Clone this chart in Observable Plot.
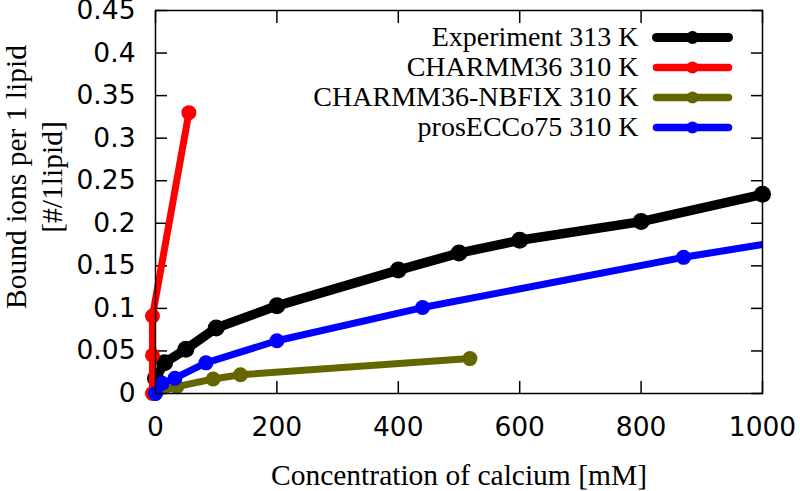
<!DOCTYPE html>
<html>
<head>
<meta charset="utf-8">
<script src="https://cdn.jsdelivr.net/npm/d3@7"></script>
<script src="https://cdn.jsdelivr.net/npm/@observablehq/plot@0.6"></script>
<style>
  html, body { margin: 0; padding: 0; background: white; }
</style>
</head>
<body>
<div id="chart"></div>
<script>
// ---- data ----
const xTicks = [0, 200, 400, 600, 800, 1000];
const yTicks = [0, 0.05, 0.1, 0.15, 0.2, 0.25, 0.3, 0.35, 0.4, 0.45];

const seriesNames = ["Experiment 313 K", "CHARMM36 310 K", "CHARMM36-NBFIX 310 K", "prosECCo75 310 K"];
const seriesColors = ["#000000", "#ff0000", "#666600", "#0000ff"];

const expX = [0, 15, 50, 100, 200, 400, 500, 600, 800, 1000];
const expY = [0.018, 0.036, 0.052, 0.077, 0.103, 0.145, 0.165, 0.180, 0.202, 0.234];

const c36X = [-5, -5, -5, 55];
const c36Y = [0, 0.045, 0.091, 0.330];

const nbfixX = [0, 35, 95, 140, 518];
const nbfixY = [0, 0.008, 0.017, 0.022, 0.041];

const prosX = [0, 11, 32, 83, 200, 440, 870, 1000];
const prosY = [0, 0.012, 0.018, 0.036, 0.062, 0.101, 0.160, 0.175];
const prosMarked = [true, true, true, true, true, true, true, false];

// ---- build tables ----
const toRows = (xs, ys) => xs.map((x, i) => ({x, y: ys[i], i}));
const exp = toRows(expX, expY);
const c36 = toRows(c36X, c36Y);
const nbfix = toRows(nbfixX, nbfixY);
const pros = toRows(prosX, prosY);

const serif = "'Liberation Serif', 'Times New Roman', serif";
const sans = "'DejaVu Sans', sans-serif";

const lineSpec = [
  {data: exp, color: seriesColors[0], sw: 9.5, r: 8.5},
  {data: c36, color: seriesColors[1], sw: 7, r: 7.5},
  {data: nbfix, color: seriesColors[2], sw: 7, r: 7.5},
  {data: pros, color: seriesColors[3], sw: 7, r: 7.5, filter: d => prosMarked[d.i]}
];

const seriesMarks = lineSpec.flatMap(s => [
  Plot.line(s.data, {x: "x", y: "y", stroke: s.color, strokeWidth: s.sw, strokeLinejoin: "round", strokeLinecap: "butt"}),
  Plot.dot(s.data, {x: "x", y: "y", r: s.r, fill: s.color, stroke: null, filter: s.filter})
]);

const legendRowDy = [27, 57, 87, 117];
const legendLineW = [9, 7.5, 7.5, 7.5];
const legendDotR = [6.5, 6, 6, 6];
const legendMarks = seriesNames.flatMap((name, k) => [
  Plot.text([name], {frameAnchor: "top-right", text: d => d, dx: -124, dy: legendRowDy[k],
    textAnchor: "end", lineAnchor: "middle", fontSize: 28, fontFamily: serif, fill: "black"}),
  Plot.vector([name], {frameAnchor: "top-right", dx: -70, dy: legendRowDy[k], length: 72, rotate: 90,
    anchor: "middle", stroke: seriesColors[k], strokeWidth: legendLineW[k],
    shape: {draw(ctx, l) { ctx.moveTo(0, 0); ctx.lineTo(0, -l); }}}),
  Plot.dot([name], {frameAnchor: "top-right", dx: -70, dy: legendRowDy[k], r: legendDotR[k], fill: seriesColors[k]})
]);

const chart = Plot.plot({
  width: 800,
  height: 491,
  marginLeft: 155,
  marginRight: 38,
  marginTop: 10,
  marginBottom: 98,
  style: {fontFamily: sans, background: "white", color: "black"},
  x: {domain: [0, 1000], label: null},
  y: {domain: [0, 0.45], label: null},
  marks: [
    // inward ticks on all four sides
    Plot.axisY(yTicks, {anchor: "left", tickSize: 12, dx: 12, fill: "none", stroke: "black", strokeWidth: 1.5, label: null}),
    Plot.axisY(yTicks, {anchor: "right", tickSize: 12, dx: -12, fill: "none", stroke: "black", strokeWidth: 1.5, label: null}),
    Plot.axisX(xTicks, {anchor: "bottom", tickSize: 12, dy: -12, fill: "none", stroke: "black", strokeWidth: 1.5, label: null}),
    Plot.axisX(xTicks, {anchor: "top", tickSize: 12, dy: 12, fill: "none", stroke: "black", strokeWidth: 1.5, label: null}),
    // tick labels
    Plot.axisY(yTicks, {anchor: "left", tickSize: 0, tickPadding: 20, fontSize: 26.5, fontFamily: sans, fill: "black",
      tickFormat: d => String(+d.toFixed(2)), label: null}),
    Plot.axisX(xTicks, {anchor: "bottom", tickSize: 0, tickPadding: 24, fontSize: 26.5, fontFamily: sans, fill: "black",
      tickFormat: d => String(d), label: null}),
    // axis titles
    Plot.text(["Bound ions per 1 lipid\n[#/1lipid]"], {frameAnchor: "left", text: d => d, rotate: -90, dx: -123, dy: -25,
      fontSize: 29.5, fontFamily: serif, lineHeight: 1.2, textAnchor: "middle", lineAnchor: "middle", fill: "black"}),
    Plot.text(["Concentration of calcium [mM]"], {frameAnchor: "bottom", text: d => d, dy: 82.5,
      fontSize: 29.5, fontFamily: serif, textAnchor: "middle", lineAnchor: "middle", fill: "black"}),
    ...seriesMarks,
    Plot.frame({stroke: "black", strokeWidth: 1.5}),
    ...legendMarks
  ]
});

document.getElementById("chart").appendChild(chart);
</script>
</body>
</html>
